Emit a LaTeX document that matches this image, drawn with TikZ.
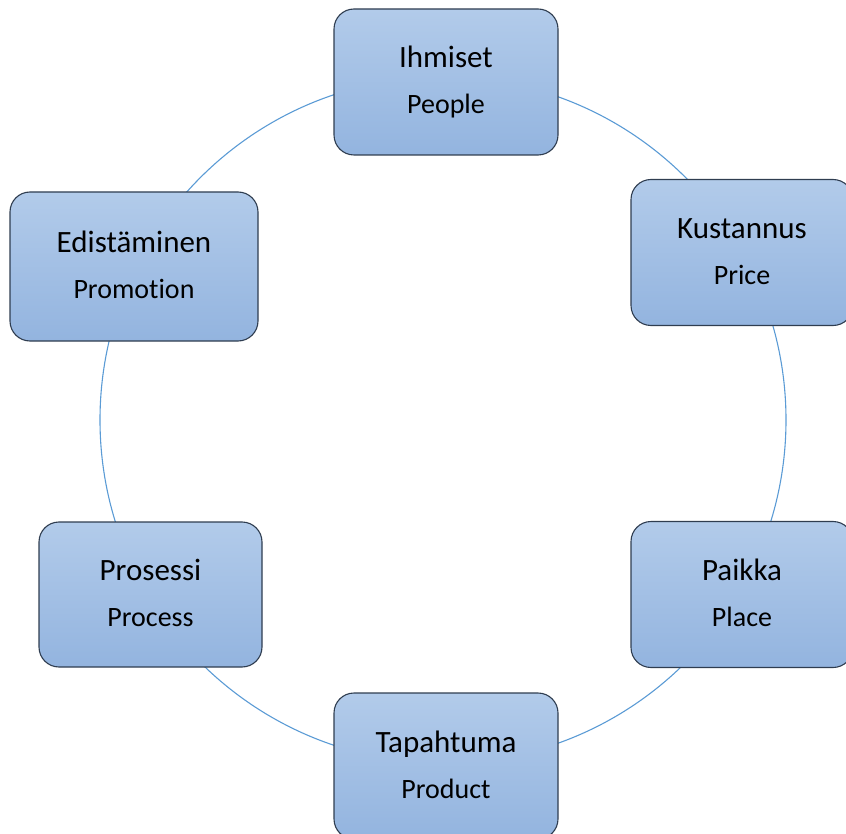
\documentclass[tikz,border=0pt]{standalone}
\usepackage{fontspec}
\setmainfont{Carlito}[Ligatures={NoCommon,NoContextual}]
\usetikzlibrary{calc}
\definecolor{ringblue}{HTML}{5B9BD5}
\definecolor{boxtop}{HTML}{B2CBEA}
\definecolor{boxbot}{HTML}{93B4DF}
\definecolor{boxedge}{HTML}{2F3D50}
\begin{document}
\begin{tikzpicture}[x=1pt,y=-1pt,
  card/.style={draw=boxedge, line width=1.1pt, rounded corners=20pt,
    top color=boxtop, bottom color=boxbot,
    minimum width=224pt, minimum height=146pt, inner sep=0pt},
  wide/.style={minimum width=248pt, minimum height=149pt},
  fi/.style={anchor=base, inner sep=0pt, font=\fontsize{31}{37}\selectfont},
  en/.style={anchor=base, inner sep=0pt, font=\fontsize{28}{34}\selectfont},
  ring/.style={draw=ringblue, line width=1.1pt}]
\useasboundingbox (0,0) rectangle (846,834);

% the cycle ring behind the cards
\coordinate (hub) at (443,420);
\draw[ring] (hub) circle[radius=343pt];

% cards
\node[card] (people) at (446,82) {};
\node[card, minimum width=222pt] (price) at (742,252.5) {};
\node[card, minimum width=222pt] (place) at (742,594.5) {};
\node[card] (product) at (446,766) {};
\node[card, minimum width=223pt, minimum height=145pt] (process) at (150.5,594.5) {};
\node[card, wide] (promotion) at (134,266.5) {};

% two-line labels: Finnish term above, English term below
\foreach \b/\f/\e in {people/Ihmiset/People, price/Kustannus/Price,
    place/Paikka/Place, product/Tapahtuma/Product,
    process/Prosessi/Process, promotion/Edistäminen/Promotion}{
  \node[fi] (\b-fi) at ($(\b.center)+(0,-14)$) {\f};
  \node[en] (\b-en) at ($(\b.center)+(0,32)$) {\e};
}
\end{tikzpicture}
\end{document}
